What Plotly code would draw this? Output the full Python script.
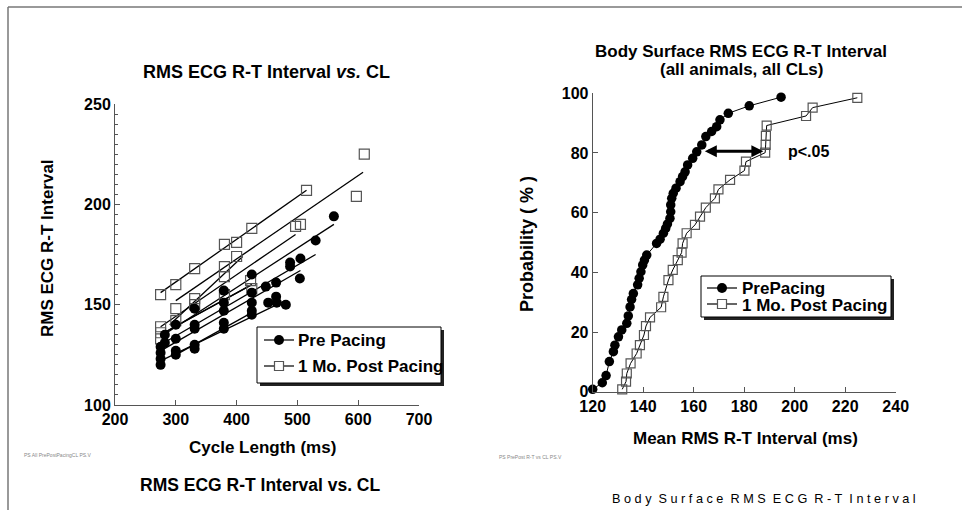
import plotly.graph_objects as go

W, H = 962, 510

# ---------------- Left panel: RMS ECG R-T interval vs cycle length ----------------
pre_cl = [560, 530, 505, 488, 488, 504, 465, 448, 425, 465, 452, 466, 481, 425, 425, 425, 425,
          379, 379, 379, 379, 379, 331, 331, 331, 331, 331, 300, 300, 300, 300, 282, 282,
          275, 275, 275, 275]
pre_rt = [194, 182, 173, 171, 169, 163, 161, 159, 165, 154, 151, 151, 150, 156, 151, 147, 145,
          157, 151, 147, 141, 138, 148, 140, 138, 130, 128, 140, 133, 127, 125, 135, 131,
          129, 126, 123, 120]

post_cl = [275, 300, 331, 380, 400, 425, 515, 610, 597, 497, 505, 400, 380, 380, 423, 300, 331,
           380, 275, 300, 275, 275, 331, 425]
post_rt = [155, 160, 168, 180, 181, 188, 207, 225, 204, 189, 190, 174, 169, 164, 162, 148, 153,
           155, 139, 142, 136, 133, 150, 158]

# per-animal regression lines (start / end points)
pre_fit_x0 = [275, 275, 275, 280, 275, 300]
pre_fit_y0 = [134, 130, 127, 136, 122, 125]
pre_fit_x1 = [560, 530, 505, 425, 480, 425]
pre_fit_y1 = [190, 175, 167, 160, 152, 146]

post_fit_x0 = [275, 300, 275, 290, 275]
post_fit_y0 = [156, 152, 139, 140, 135]
post_fit_x1 = [515, 608, 497, 410, 425]
post_fit_y1 = [207, 216, 185, 174, 160]

# ---------------- Right panel: cumulative probability ----------------
pre_cdf_rt = [120.0, 123.8, 125.3, 126.6, 128.2, 128.8, 130.2, 131.5, 133.5, 134.1, 134.8, 135.4,
              136.1, 137.8, 138.4, 139.1, 139.8, 140.5, 141.4, 145.3, 146.7, 148.0, 148.9, 149.6,
              150.6, 150.9, 150.9, 151.3, 151.9, 153.0, 154.6, 155.6, 156.6, 157.6, 159.6, 161.2,
              163.2, 164.8, 167.1, 169.1, 170.4, 173.7, 182.0, 194.6]
pre_cdf_p = [0.8, 3.0, 5.4, 10.1, 13.4, 15.6, 18.4, 20.7, 22.9, 25.4, 28.4, 30.9,
             32.9, 35.8, 38.0, 40.2, 42.5, 44.1, 45.8, 49.7, 51.1, 53.1, 54.7, 56.2,
             58.1, 60.3, 62.6, 64.8, 66.5, 68.2, 70.4, 72.1, 73.7, 76.0, 78.2, 80.4,
             82.7, 85.5, 87.2, 88.8, 91.1, 93.3, 95.8, 98.7]

post_cdf_rt = [131.7, 133.2, 133.5, 135.0, 137.4, 138.7, 140.3, 141.1, 142.7, 147.1, 148.0, 150.0,
               151.7, 153.7, 155.2, 155.6, 157.2, 160.5, 162.5, 164.8, 168.4, 169.8, 174.4, 180.1,
               180.7, 188.3, 188.5, 188.6, 188.9, 204.5, 207.1, 224.8]
post_cdf_p = [0.8, 3.4, 6.1, 9.5, 12.8, 15.6, 19.0, 22.0, 24.9, 28.3, 31.8, 37.4,
              40.8, 44.1, 46.6, 49.7, 53.1, 55.9, 58.7, 61.7, 64.8, 67.8, 71.0, 74.1,
              77.1, 80.1, 82.7, 85.7, 89.2, 92.4, 95.2, 98.5]

legend_names_left = ["Pre Pacing", "1 Mo. Post Pacing"]
legend_names_right = ["PrePacing", "1 Mo. Post Pacing"]


def segs(x0, y0, x1, y1):
    xs, ys = [], []
    for a, b, c, d in zip(x0, y0, x1, y1):
        xs += [a, c, None]
        ys += [b, d, None]
    return xs, ys


FONT = "Liberation Sans, Arial, Helvetica, sans-serif"
AX = "#555555"
SQ = "#555555"

fig = go.Figure()

lx, ly = segs(pre_fit_x0, pre_fit_y0, pre_fit_x1, pre_fit_y1)
fig.add_trace(go.Scatter(x=lx, y=ly, mode="lines", line=dict(color="black", width=1.3),
                         showlegend=False, xaxis="x", yaxis="y", hoverinfo="skip"))
lx, ly = segs(post_fit_x0, post_fit_y0, post_fit_x1, post_fit_y1)
fig.add_trace(go.Scatter(x=lx, y=ly, mode="lines", line=dict(color="black", width=1.3),
                         showlegend=False, xaxis="x", yaxis="y", hoverinfo="skip"))
fig.add_trace(go.Scatter(x=post_cl, y=post_rt, mode="markers",
                         marker=dict(symbol="square-open", size=10, color=SQ, line=dict(width=1.2)),
                         showlegend=False, xaxis="x", yaxis="y", cliponaxis=False))
fig.add_trace(go.Scatter(x=pre_cl, y=pre_rt, mode="markers",
                         marker=dict(symbol="circle", size=10, color="black"),
                         showlegend=False, xaxis="x", yaxis="y", cliponaxis=False))

# right panel
fig.add_trace(go.Scatter(x=post_cdf_rt, y=post_cdf_p, mode="lines+markers",
                         line=dict(color="black", width=1),
                         marker=dict(symbol="square-open", size=9, color=SQ, line=dict(width=1.2)),
                         xaxis="x2", yaxis="y2", cliponaxis=False, showlegend=False))
fig.add_trace(go.Scatter(x=pre_cdf_rt, y=pre_cdf_p, mode="lines+markers",
                         line=dict(color="black", width=1),
                         marker=dict(symbol="circle", size=9.5, color="black"),
                         xaxis="x2", yaxis="y2", cliponaxis=False, showlegend=False))


def px(x):
    return x / W


def py(y):
    return 1 - y / H


axis_common = dict(showgrid=False, zeroline=False, showline=True, linecolor=AX, linewidth=1,
                   ticks="inside", tickcolor=AX, ticklen=5, automargin=False,
                   tickfont=dict(family=FONT, size=16, color="black", weight="bold"))

fig.update_layout(
    template="none",
    width=W, height=H, margin=dict(l=0, r=0, t=0, b=0, pad=0),
    paper_bgcolor="white", plot_bgcolor="white",
    xaxis=dict(domain=[px(115), px(419)], range=[200, 700], dtick=100, anchor="y", **axis_common),
    yaxis=dict(domain=[py(405), py(104)], range=[100, 250], dtick=50, anchor="x",
               minor=dict(dtick=5, ticks="inside", ticklen=3, tickcolor=AX), **axis_common),
    xaxis2=dict(domain=[px(592.7), px(895.7)], range=[120, 240], dtick=20, anchor="y2", **axis_common),
    yaxis2=dict(domain=[py(391.7), py(93.3)], range=[0, 100], dtick=20, anchor="x2", **axis_common),
    showlegend=False,
)

shapes = []
# page border
shapes.append(dict(type="line", xref="paper", yref="paper", x0=px(8), x1=1, y0=py(7), y1=py(7),
                   line=dict(color="#777", width=1.5)))
shapes.append(dict(type="line", xref="paper", yref="paper", x0=px(8), x1=px(8), y0=py(7), y1=0,
                   line=dict(color="#777", width=1.5)))
# legend boxes with drop shadow
for (x0, y0, x1, y1) in [(257, 327, 441, 383), (701, 276, 891, 317)]:
    shapes.append(dict(type="rect", xref="paper", yref="paper", x0=px(x0 + 3), x1=px(x1 + 3),
                       y0=py(y1 + 3), y1=py(y0 + 3), line=dict(width=0), fillcolor="#222", layer="above"))
    shapes.append(dict(type="rect", xref="paper", yref="paper", x0=px(x0), x1=px(x1),
                       y0=py(y1), y1=py(y0), line=dict(color="black", width=1), fillcolor="white",
                       layer="above"))


def glyph(xl, xr, y, kind):
    shapes.append(dict(type="line", xref="paper", yref="paper", x0=px(xl), x1=px(xr), y0=py(y), y1=py(y),
                       line=dict(color="black", width=1.2), layer="above"))
    xc = (xl + xr) / 2
    if kind == "circle":
        shapes.append(dict(type="circle", xref="paper", yref="paper", x0=px(xc - 5), x1=px(xc + 5),
                           y0=py(y + 5), y1=py(y - 5), fillcolor="black", line=dict(width=0),
                           layer="above"))
    else:
        shapes.append(dict(type="rect", xref="paper", yref="paper", x0=px(xc - 4.5), x1=px(xc + 4.5),
                           y0=py(y + 4.5), y1=py(y - 4.5), fillcolor="white",
                           line=dict(color=SQ, width=1.2), layer="above"))


glyph(264, 294, 340, "circle")
glyph(264, 294, 366, "square")
glyph(707, 737, 288, "circle")
glyph(707, 737, 304, "square")
fig.update_layout(shapes=shapes)

ann = []


def text(x, y, s, size=15, bold=True, angle=0, xanchor="center", color="black"):
    ann.append(dict(x=px(x), y=py(y), xref="paper", yref="paper", text=s, showarrow=False,
                    xanchor=xanchor, yanchor="middle", textangle=angle,
                    font=dict(family=FONT, size=size, color=color, weight="bold" if bold else "normal")))


text(266, 72, "RMS ECG R-T Interval <i>vs.</i> CL", 18)
text(47, 248, "RMS ECG R-T Interval", 17, angle=-90)
text(262, 447, "Cycle Length (ms)", 17)
text(260, 485, "RMS ECG R-T Interval vs. CL", 17.5)
text(741, 52, "Body Surface RMS ECG R-T Interval", 17)
text(741, 70, "(all animals, all CLs)", 17)
text(527, 244, "Probability ( % )", 18, angle=-90)
text(745, 438, "Mean RMS R-T Interval (ms)", 17)
text(610, 499, "B o d y&nbsp; S u r f a c e&nbsp; R M S&nbsp; E C G&nbsp; R - T&nbsp; I n t e r v a l",
     12.7, bold=False, xanchor="left")
text(22, 455, "PS All PrePostPacingCL PS.V", 5, bold=False, xanchor="left", color="#888")
text(497, 457, "PS PrePost R-T vs CL PS.V", 5, bold=False, xanchor="left", color="#888")

# legend labels
text(296, 340, legend_names_left[0], 17, xanchor="left")
text(296, 366, legend_names_left[1], 17, xanchor="left")
text(740, 288, legend_names_right[0], 17, xanchor="left")
text(740, 305, legend_names_right[1], 17, xanchor="left")

# arrow and p-value on the right panel
ann.append(dict(x=187.6, y=80.6, ax=163.8, ay=80.6, xref="x2", yref="y2", axref="x2", ayref="y2",
                text="", showarrow=True, arrowhead=2, arrowside="end+start", arrowwidth=3,
                arrowsize=0.8, arrowcolor="black"))
ann.append(dict(x=196.5, y=80.4, xref="x2", yref="y2", text="p<.05", showarrow=False,
                xanchor="left", yanchor="middle",
                font=dict(family=FONT, size=16, color="black", weight="bold")))
fig.update_layout(annotations=ann)

fig.write_html("out.html", config={"displayModeBar": False, "staticPlot": True},
               post_script="document.body.style.margin='0';")
